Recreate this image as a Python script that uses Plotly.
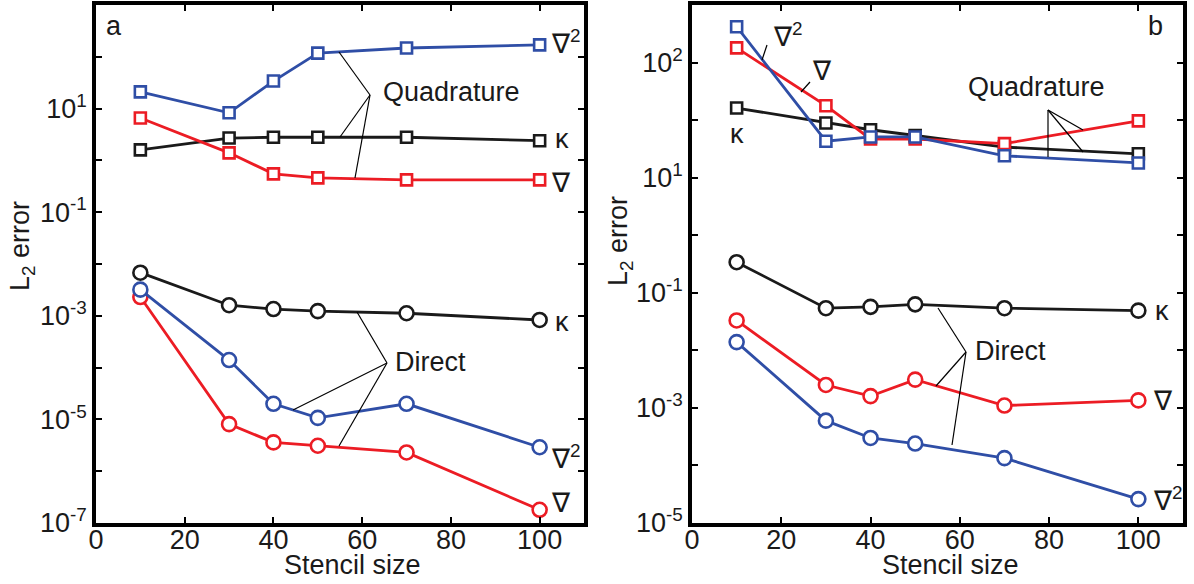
import plotly.graph_objects as go

W, H = 1194, 584

stencil = [10, 30, 40, 50, 70, 100]

# Panel a
a_quad_lap = [21, 8.3, 34, 118, 148, 170]
a_quad_kappa = [1.6, 2.7, 2.8, 2.8, 2.8, 2.4]
a_quad_grad = [6.6, 1.4, 0.55, 0.46, 0.42, 0.42]
a_dir_kappa = [0.0068, 0.0016, 0.00135, 0.00123, 0.00112, 0.00083]
a_dir_lap = [0.0032, 1.4e-4, 2.0e-5, 1.07e-5, 2.0e-5, 2.9e-6]
a_dir_grad = [0.0023, 8.1e-6, 3.6e-6, 3.1e-6, 2.3e-6, 1.8e-7]

# Panel b
b_quad_lap = [4200, 43, 51, 51, 24, 18]
b_quad_kappa = [162, 89, 68, 54, 34, 26]
b_quad_grad = [1800, 178, 47, 47, 39, 97]
b_dir_kappa = [0.34, 0.054, 0.057, 0.063, 0.054, 0.049]
b_dir_grad = [0.033, 0.0025, 0.0016, 0.0031, 0.0011, 0.00135]
b_dir_lap = [0.0139, 6.0e-4, 3.0e-4, 2.4e-4, 1.34e-4, 2.6e-5]

x_ticks = [0, 20, 40, 60, 80, 100]
a_y_exps = list(range(-7, 4))
a_y_labels = {-7: "10<sup>-7</sup>", -5: "10<sup>-5</sup>", -3: "10<sup>-3</sup>",
              -1: "10<sup>-1</sup>", 1: "10<sup>1</sup>", 3: "10<sup>3</sup>"}
b_y_exps = list(range(-5, 5))
b_y_labels = {-5: "10<sup>-5</sup>", -3: "10<sup>-3</sup>", -1: "10<sup>-1</sup>",
              1: "10<sup>1</sup>", 3: "10<sup>2</sup>"}

BLUE = "#2f4ea6"
RED = "#ec1c24"
BLACK = "#1a1a1a"
FONT = "Liberation Sans, Arial, Helvetica, sans-serif"

fig = go.Figure()


def add(x, y, color, symbol, xa, ya):
    size = 11 if symbol == "square-open" else 14
    fig.add_trace(go.Scatter(
        x=x, y=y, mode="lines+markers", xaxis=xa, yaxis=ya,
        line=dict(color=color, width=2.8),
        marker=dict(symbol="square" if symbol == "square-open" else "circle",
                    size=size, color="white",
                    line=dict(color=color, width=2.6)),
        showlegend=False, hoverinfo="skip"))


# panel a
add(stencil, a_quad_kappa, BLACK, "square-open", "x", "y")
add(stencil, a_quad_grad, RED, "square-open", "x", "y")
add(stencil, a_quad_lap, BLUE, "square-open", "x", "y")
add(stencil, a_dir_kappa, BLACK, "circle-open", "x", "y")
add(stencil, a_dir_grad, RED, "circle-open", "x", "y")
add(stencil, a_dir_lap, BLUE, "circle-open", "x", "y")
# panel b
add(stencil, b_quad_kappa, BLACK, "square-open", "x2", "y2")
add(stencil, b_quad_grad, RED, "square-open", "x2", "y2")
add(stencil, b_quad_lap, BLUE, "square-open", "x2", "y2")
add(stencil, b_dir_kappa, BLACK, "circle-open", "x2", "y2")
add(stencil, b_dir_grad, RED, "circle-open", "x2", "y2")
add(stencil, b_dir_lap, BLUE, "circle-open", "x2", "y2")


def px(x, y):
    return x / W, 1 - y / H


axis_common = dict(showline=True, linewidth=3.5, linecolor="black", mirror="ticks",
                   ticks="inside", ticklen=6, tickwidth=2, tickcolor="black",
                   showgrid=False, zeroline=False, automargin=False,
                   tickfont=dict(family=FONT, size=27, color="#1a1a1a"))

ax_a = (96 / W, 584 / W)
ax_b = (692 / W, 1183 / W)
ydom = (1 - 523 / H, 1 - 5 / H)

fig.update_layout(
    template="none",
    width=W, height=H, autosize=False,
    margin=dict(l=0, r=0, t=0, b=0, pad=0),
    paper_bgcolor="white", plot_bgcolor="white",
    font=dict(family=FONT, size=27, color="#1a1a1a"),
    xaxis=dict(domain=ax_a, range=[0, 110], tickvals=x_ticks, anchor="y",
               ticklabelstandoff=-10, **axis_common),
    yaxis=dict(domain=ydom, type="log", range=[-7, 3], anchor="x",
               tickvals=[10.0 ** k for k in a_y_exps],
               ticktext=[a_y_labels.get(k, "") for k in a_y_exps], **axis_common),
    xaxis2=dict(domain=ax_b, range=[0, 110], tickvals=x_ticks, anchor="y2",
                ticklabelstandoff=-10, **axis_common),
    yaxis2=dict(domain=ydom, type="log", range=[-5, 4], anchor="x2",
                tickvals=[10.0 ** k for k in b_y_exps],
                ticktext=[b_y_labels.get(k, "") for k in b_y_exps], **axis_common),
)

annotations = []


def text(x, y, s, size=27, xanchor="left", angle=0):
    xx, yy = px(x, y)
    annotations.append(dict(x=xx, y=yy, xref="paper", yref="paper", text=s,
                            showarrow=False, xanchor=xanchor, yanchor="middle",
                            textangle=angle,
                            font=dict(family=FONT, size=size, color="#1a1a1a")))


NAB2 = "∇<sup>2</sup>"
NAB = "∇"
KAP = "κ"

# panel a texts
text(104, 26, "a")
text(381, 92, "Quadrature")
text(393, 362, "Direct")
text(549, 42, NAB2)
text(553, 139, KAP)
text(549, 183, NAB)
text(553, 322, KAP)
text(549, 457, NAB2)
text(549, 503, NAB)
# panel b texts
text(1146, 26, "b")
text(966, 87, "Quadrature")
text(973, 351, "Direct")
text(771, 35, NAB2)
text(810, 71, NAB)
text(728, 134, KAP)
text(1153, 311, KAP)
text(1151, 401, NAB)
text(1151, 499, NAB2)

# axis titles
text(352, 565, "Stencil size", xanchor="center")
text(950, 565, "Stencil size", xanchor="center")
text(22, 246, "L<sub>2</sub> error", xanchor="center", angle=-90)
text(620, 241, "L<sub>2</sub> error", xanchor="center", angle=-90)

fig.update_layout(annotations=annotations)

shapes = []


def seg(x0, y0, x1, y1):
    a0, b0 = px(x0, y0)
    a1, b1 = px(x1, y1)
    shapes.append(dict(type="line", xref="paper", yref="paper",
                       x0=a0, y0=b0, x1=a1, y1=b1,
                       line=dict(color="black", width=1.2)))


# leader lines panel a
for ex, ey in [(339, 52), (340, 137), (355, 178)]:
    seg(370, 95, ex, ey)
for ex, ey in [(357, 312), (293, 410), (339, 446)]:
    seg(387, 363, ex, ey)
# leader lines panel b
for ex, ey in [(1048, 157), (1083, 130), (1083, 152)]:
    seg(1048, 110, ex, ey)
for ex, ey in [(938, 308), (936, 386), (952, 445)]:
    seg(966, 352, ex, ey)
seg(762, 60, 767, 45)
seg(801, 92, 810, 82)

fig.update_layout(shapes=shapes)

fig.write_html("out.html")
